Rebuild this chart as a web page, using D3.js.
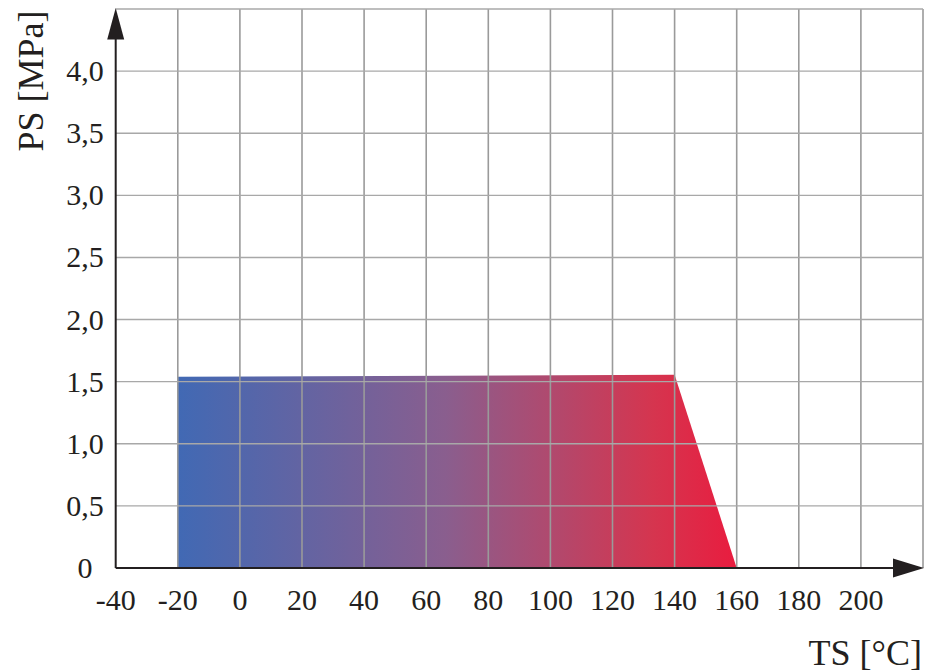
<!DOCTYPE html>
<html>
<head>
<meta charset="utf-8">
<script src="https://cdn.jsdelivr.net/npm/d3@7/dist/d3.min.js"></script>
<style>
  html, body { margin: 0; padding: 0; background: #fff; }
  svg { display: block; }
  text { font-family: "Liberation Serif", "DejaVu Serif", serif; fill: #231f20; }
</style>
</head>
<body>
<svg id="chart" width="926" height="672"></svg>
<script>
// Data
const xTicks = [-40, -20, 0, 20, 40, 60, 80, 100, 120, 140, 160, 180, 200];
const xGrid = [-20, 0, 20, 40, 60, 80, 100, 120, 140, 160, 180, 200, 220];
const yTicks = [0, 0.5, 1.0, 1.5, 2.0, 2.5, 3.0, 3.5, 4.0];
const yTickLabels = ["0", "0,5", "1,0", "1,5", "2,0", "2,5", "3,0", "3,5", "4,0"];
const yGrid = [0.5, 1.0, 1.5, 2.0, 2.5, 3.0, 3.5, 4.0, 4.5];
const areaTS = [-20, -20, 140, 160];
const areaPS = [0, 1.54, 1.555, 0];
const xTitle = "TS [°C]";
const yTitle = "PS [MPa]";

const svg = d3.select("#chart");
const x = d3.scaleLinear().domain([-40, 220]).range([115.7, 923]);
const y = d3.scaleLinear().domain([0, 4.5]).range([568, 9]);

// gradient
const defs = svg.append("defs");
const grad = defs.append("linearGradient").attr("id", "g")
  .attr("gradientUnits", "userSpaceOnUse")
  .attr("x1", x(-20)).attr("x2", x(160)).attr("y1", 0).attr("y2", 0);
[[0, "#4169b4"], [0.48, "#8a5e8e"], [0.85, "#d5354f"], [1, "#e91c3f"]].forEach(s =>
  grad.append("stop").attr("offset", s[0]).attr("stop-color", s[1]));

// area polygon
const pts = areaTS.map((t, i) => [x(t), y(areaPS[i])]);
svg.append("path")
  .attr("d", d3.line()(pts) + "Z")
  .attr("fill", "url(#g)");

// grid
const grid = svg.append("g");
grid.selectAll("line.v").data(xGrid).join("line")
  .attr("x1", d => x(d)).attr("x2", d => x(d))
  .attr("y1", y(0)).attr("y2", y(4.5))
  .attr("stroke", "#9a9a9a").attr("stroke-width", 1.6);
grid.selectAll("line.h").data(yGrid).join("line")
  .attr("x1", x(-40)).attr("x2", x(220))
  .attr("y1", d => y(d)).attr("y2", d => y(d))
  .attr("stroke", "#a8a8a8").attr("stroke-width", 1.4);

// axes lines
const axisColor = "#231f20";
svg.append("line").attr("x1", x(-40)).attr("x2", 900).attr("y1", y(0)).attr("y2", y(0))
  .attr("stroke", axisColor).attr("stroke-width", 2);
svg.append("line").attr("x1", x(-40)).attr("x2", x(-40)).attr("y1", y(0)).attr("y2", 30)
  .attr("stroke", axisColor).attr("stroke-width", 2);
// arrows
const ax0 = x(-40), ay0 = y(0);
svg.append("path").attr("d", `M${ax0},8 L${ax0 - 8.5},39.5 L${ax0 + 8.5},39.5 Z`).attr("fill", axisColor);
svg.append("path").attr("d", `M924,${ay0} L893,${ay0 - 9.5} L893,${ay0 + 9.5} Z`).attr("fill", axisColor);

// tick labels
svg.append("g").selectAll("text").data(xTicks).join("text")
  .attr("x", d => x(d)).attr("y", 610)
  .attr("text-anchor", "middle").attr("font-size", 30)
  .text(d => d);
svg.append("g").selectAll("text").data(yTicks).join("text")
  .attr("x", 85).attr("y", d => y(d) + 10)
  .attr("text-anchor", "middle").attr("font-size", 30)
  .text((d, i) => yTickLabels[i]);

// titles
svg.append("text").attr("x", 922).attr("y", 665).attr("text-anchor", "end")
  .attr("font-size", 36).text(xTitle);
svg.append("text").attr("transform", "translate(43,81) rotate(-90)")
  .attr("text-anchor", "middle").attr("font-size", 36).text(yTitle);
</script>
</body>
</html>
